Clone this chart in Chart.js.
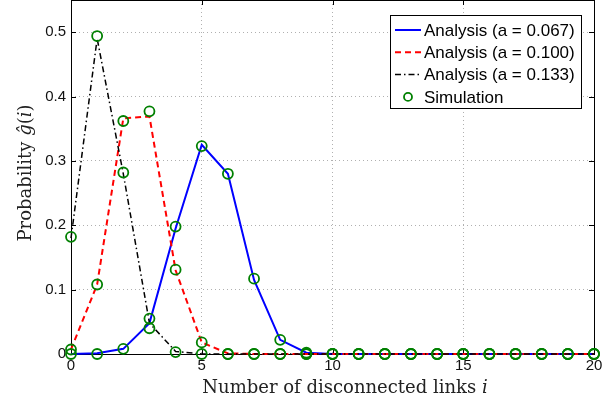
<!DOCTYPE html>
<html>
<head>
<meta charset="utf-8">
<script src="https://cdn.jsdelivr.net/npm/chart.js@4"></script>
<style>
  html, body { margin: 0; padding: 0; background: #fff; }
  #wrap { width: 613px; height: 402px; }
</style>
</head>
<body>
<div id="wrap"><canvas id="prob-chart" width="613" height="402"></canvas></div>
<script>
// number of disconnected links
var links = [0, 1, 2, 3, 4, 5, 6, 7, 8, 9, 10, 11, 12, 13, 14, 15, 16, 17, 18, 19, 20];

// analysis curves
var analysis067 = [0, 0.001, 0.008, 0.048, 0.195, 0.325, 0.28, 0.115, 0.022, 0.002, 0, 0, 0, 0, 0, 0, 0, 0, 0, 0, 0];
var analysis100 = [0.007, 0.108, 0.366, 0.369, 0.13, 0.018, 0.001, 0, 0, 0, 0, 0, 0, 0, 0, 0, 0, 0, 0, 0, 0];
var analysis133 = [0.18, 0.49, 0.28, 0.048, 0.004, 0, 0, 0, 0, 0, 0, 0, 0, 0, 0, 0, 0, 0, 0, 0, 0];

// simulation points
var sim067 = [0, 0, 0.008, 0.055, 0.198, 0.323, 0.28, 0.117, 0.022, 0.002, 0, 0, 0, 0, 0, 0, 0, 0, 0, 0, 0];
var sim100 = [0.007, 0.108, 0.362, 0.377, 0.131, 0.018, 0, 0, 0, 0, 0, 0, 0, 0, 0, 0, 0, 0, 0, 0, 0];
var sim133 = [0.182, 0.494, 0.282, 0.04, 0.003, 0, 0, 0, 0, 0, 0, 0, 0, 0, 0, 0, 0, 0, 0, 0, 0];

var xTicks = [0, 5, 10, 15, 20];
var yTicks = [0, 0.1, 0.2, 0.3, 0.4, 0.5];

function pts(vals) {
    return links.map(function (x, i) { return { x: x, y: vals[i] }; });
}

var simPoints = pts(sim067).concat(pts(sim100), pts(sim133));

var boxPlugin = {
    id: "matlabBox",
    beforeDatasetsDraw: function (chart) {
        var ctx = chart.ctx, a = chart.chartArea;
        var xs = chart.scales.x, ys = chart.scales.y;
        ctx.save();
        ctx.strokeStyle = "#000";
        ctx.lineWidth = 1;
        ctx.strokeRect(a.left + 0.5, a.top + 0.5, a.right - a.left, a.bottom - a.top);
        ctx.beginPath();
        xTicks.forEach(function (v) {
            var px = Math.round(xs.getPixelForValue(v)) + 0.5;
            ctx.moveTo(px, a.bottom); ctx.lineTo(px, a.bottom - 5);
            ctx.moveTo(px, a.top); ctx.lineTo(px, a.top + 5);
        });
        yTicks.forEach(function (v) {
            var py = Math.round(ys.getPixelForValue(v)) + 0.5;
            ctx.moveTo(a.left, py); ctx.lineTo(a.left + 5, py);
            ctx.moveTo(a.right, py); ctx.lineTo(a.right - 5, py);
        });
        ctx.stroke();
        ctx.restore();
    },
    afterDraw: function (chart) {
        var ctx = chart.ctx, a = chart.chartArea;
        ctx.save();

        // legend
        var bx = a.right - 204, by = a.top + 15, bw = 191, bh = 93;
        ctx.fillStyle = "#fff";
        ctx.fillRect(bx, by, bw, bh);
        ctx.strokeStyle = "#000";
        ctx.lineWidth = 1;
        ctx.setLineDash([]);
        ctx.strokeRect(bx + 0.5, by + 0.5, bw, bh);
        ctx.font = "17px 'Liberation Sans', Arial, sans-serif";
        ctx.textBaseline = "middle";
        ctx.textAlign = "left";
        chart.data.datasets.forEach(function (ds, i) {
            var y = by + 15 + i * 22.3;
            var x0 = bx + 5, x1 = bx + 31;
            ctx.strokeStyle = ds.borderColor;
            if (ds.showLine === false) {
                ctx.lineWidth = ds.pointBorderWidth;
                ctx.setLineDash([]);
                ctx.beginPath();
                ctx.arc((x0 + x1) / 2, y, ds.pointRadius - 1, 0, Math.PI * 2);
                ctx.stroke();
            } else {
                ctx.lineWidth = ds.borderWidth;
                ctx.setLineDash(ds.borderDash || []);
                ctx.beginPath();
                ctx.moveTo(x0, y); ctx.lineTo(x1, y);
                ctx.stroke();
            }
            ctx.setLineDash([]);
            ctx.fillStyle = "#000";
            ctx.fillText(ds.label, bx + 34, y + 1);
        });

        // axis titles
        var serif = "'DejaVu Serif', 'Liberation Serif', serif";
        var parts, total, cx;
        ctx.fillStyle = "#222";
        ctx.textBaseline = "alphabetic";
        function drawParts(parts, x, y) {
            parts.forEach(function (p) {
                ctx.font = (p[1] ? "italic " : "") + "18px " + serif;
                ctx.fillText(p[0], x, y);
                x += ctx.measureText(p[0]).width;
            });
        }
        function width(parts) {
            var w = 0;
            parts.forEach(function (p) {
                ctx.font = (p[1] ? "italic " : "") + "18px " + serif;
                w += ctx.measureText(p[0]).width;
            });
            return w;
        }
        parts = [["Number of disconnected links ", false], ["i", true]];
        total = width(parts);
        cx = 345;
        drawParts(parts, cx - total / 2, 393);

        parts = [["Probability ", false], ["ĝ", true], ["(", false], ["i", true], [")", false]];
        total = width(parts);
        ctx.translate(31, 173);
        ctx.rotate(-Math.PI / 2);
        drawParts(parts, -total / 2, 0);
        ctx.restore();
    }
};

var ctx = document.getElementById("prob-chart").getContext("2d");

new Chart(ctx, {
    type: "line",
    data: {
        datasets: [
            {
                label: "Analysis (a = 0.067)",
                data: pts(analysis067),
                borderColor: "#0000ff",
                borderWidth: 2,
                pointRadius: 0,
                order: 3,
                clip: false,
            },
            {
                label: "Analysis (a = 0.100)",
                data: pts(analysis100),
                borderColor: "#ff0000",
                borderWidth: 2,
                borderDash: [6, 4],
                pointRadius: 0,
                order: 2,
                clip: false,
            },
            {
                label: "Analysis (a = 0.133)",
                data: pts(analysis133),
                borderColor: "#000000",
                borderWidth: 1.5,
                borderDash: [6, 3, 1.5, 3],
                pointRadius: 0,
                order: 1,
                clip: false,
            },
            {
                label: "Simulation",
                data: simPoints,
                showLine: false,
                borderColor: "#008000",
                backgroundColor: "rgba(0,0,0,0)",
                pointRadius: 5,
                pointBorderWidth: 1.8,
                pointBorderColor: "#008000",
                pointBackgroundColor: "rgba(0,0,0,0)",
                order: 0,
                clip: false,
            },
        ],
    },
    options: {
        responsive: false,
        animation: false,
        events: [],
        layout: { autoPadding: false, padding: { top: 0, right: 19, left: 0, bottom: 0 } },
        scales: {
            x: {
                type: "linear",
                min: 0,
                max: 20,
                afterBuildTicks: function (s) {
                    s.ticks = xTicks.map(function (v) { return { value: v }; });
                },
                afterFit: function (s) {
                    s.height = 48;
                    s.paddingLeft = 0; s.paddingRight = 0;
                },
                grid: { color: "#b0b0b0", drawTicks: false, lineWidth: 1 },
                border: { display: false, dash: [1, 3] },
                ticks: {
                    padding: 3,
                    color: "#111",
                    maxRotation: 0,
                    font: { family: "'Liberation Sans', Arial, sans-serif", size: 15 },
                },
            },
            y: {
                type: "linear",
                min: 0,
                max: 0.55,
                afterBuildTicks: function (s) {
                    s.ticks = yTicks.map(function (v) { return { value: v }; });
                },
                afterFit: function (s) {
                    s.width = 71;
                    s.paddingTop = 0; s.paddingBottom = 0;
                },
                grid: { color: "#b0b0b0", drawTicks: false, lineWidth: 1 },
                border: { display: false, dash: [1, 3] },
                ticks: {
                    padding: 5,
                    color: "#111",
                    callback: function (v) { return v === 0 ? "0" : v.toFixed(1); },
                    font: { family: "'Liberation Sans', Arial, sans-serif", size: 15 },
                },
            },
        },
        plugins: {
            legend: { display: false },
            tooltip: { enabled: false },
        },
    },
    plugins: [boxPlugin],
});
</script>
</body>
</html>
